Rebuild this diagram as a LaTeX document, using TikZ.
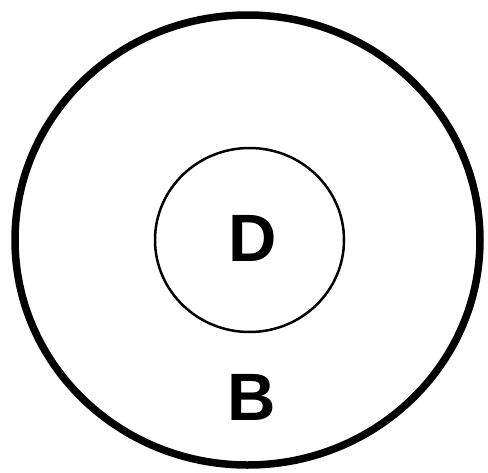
\documentclass[tikz,border=0pt]{standalone}
\usepackage{fontspec}
\setmainfont{Liberation Sans}
\tikzset{
  outerring/.style={draw=black, line width=7.5pt},
  innerring/.style={draw=black, line width=2.5pt},
  lbl/.style={font=\fontsize{67}{72}\selectfont\bfseries, inner sep=0pt, anchor=center}
}
\begin{document}
\begin{tikzpicture}[x=1pt,y=-1pt]
\useasboundingbox (0,0) rectangle (488,472);
\fill[white] (0,0) rectangle (488,472);
\draw[outerring] (247.5,240) ellipse [x radius=232.5, y radius=225];
\draw[innerring] (249.5,240) ellipse [x radius=94.5, y radius=92];
\node[lbl] (d) at (252.5,238.5) {D};
\node[lbl] (b) at (252,397) {B};
\end{tikzpicture}
\end{document}
